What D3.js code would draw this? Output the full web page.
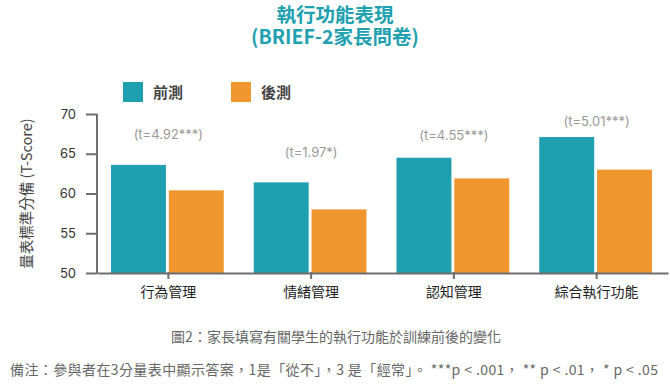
<!DOCTYPE html>
<html>
<head>
<meta charset="utf-8">
<script src="https://cdn.jsdelivr.net/npm/d3@7"></script>
<style>
  body { margin: 0; background: #fff; }
  svg { display: block; font-family: Inter, "Noto Sans CJK TC", sans-serif; }
</style>
</head>
<body>
<svg width="670" height="390"></svg>
<script>
var categories = ['行為管理', '情緒管理', '認知管理', '綜合執行功能'];
var seriesNames = ['前測', '後測'];
var preValues = [63.6, 61.4, 64.5, 67.1];
var postValues = [60.4, 58.0, 61.9, 63.0];
var tLabels = ['(t=4.92***)', '(t=1.97*)', '(t=4.55***)', '(t=5.01***)'];
var tLabelAt = [67.5, 65.2, 67.4, 69.1];   // label centre in T-score units
var yTicks = [50, 55, 60, 65, 70];
var titleLines = ['執行功能表現', '(BRIEF-2家長問卷)'];

var colors = ['#1fa0b1', '#ef962f'];

var svg = d3.select('svg');
var margin = {left: 97, right: 2, top: 114, bottom: 117};
var width = +svg.attr('width'), height = +svg.attr('height');

var x = d3.scaleBand()
  .domain(categories)
  .range([margin.left, width - margin.right])
  .paddingInner(0)
  .paddingOuter(0);

var x1 = d3.scaleBand()
  .domain(seriesNames)
  .range([14, x.bandwidth() - 16])
  .paddingInner(0.05);

var y = d3.scaleLinear()
  .domain([50, 70])
  .range([height - margin.bottom, margin.top]);

var rows = categories.map(function(c, i) {
  return {cat: c, values: [preValues[i], postValues[i]], t: tLabels[i], tAt: tLabelAt[i]};
});

var cjk = '"Noto Sans CJK TC", sans-serif';

/* title: one text, two lines */
svg.append('text')
  .attr('text-anchor', 'middle')
  .attr('fill', '#21a0b0')
  .style('font-size', '19.5px').style('font-weight', 'bold')
  .style('font-family', cjk)
  .selectAll('tspan')
  .data(titleLines)
  .enter().append('tspan')
  .attr('x', 335)
  .attr('y', function(d, i) { return 22 + i * 22; })
  .text(function(d) { return d; });

/* legend */
var legend = svg.append('g').selectAll('g')
  .data(seriesNames)
  .enter().append('g')
  .attr('transform', function(d, i) { return 'translate(' + (123 + i * 108) + ',82)'; });
legend.append('rect')
  .attr('width', 20).attr('height', 20)
  .attr('fill', function(d, i) { return colors[i]; });
legend.append('text')
  .attr('x', 30).attr('y', 15.5)
  .attr('fill', '#444')
  .style('font-size', '15px').style('font-weight', 'bold')
  .style('font-family', cjk)
  .text(function(d) { return d; });

/* bars */
var groups = svg.append('g').selectAll('g')
  .data(rows)
  .enter().append('g')
  .attr('transform', function(d) { return 'translate(' + x(d.cat) + ',0)'; });

groups.selectAll('rect')
  .data(function(d) { return d.values; })
  .enter().append('rect')
  .attr('x', function(d, i) { return x1(seriesNames[i]); })
  .attr('width', x1.bandwidth())
  .attr('y', function(d) { return y(d); })
  .attr('height', function(d) { return y(50) - y(d); })
  .attr('fill', function(d, i) { return colors[i]; });

groups.append('text')
  .attr('x', x.bandwidth() / 2)
  .attr('y', function(d) { return y(d.tAt) + 5; })
  .attr('text-anchor', 'middle')
  .attr('fill', '#999')
  .style('font-size', '13px')
  .text(function(d) { return d.t; });

/* axes */
var yAxis = svg.append('g')
  .attr('transform', 'translate(' + margin.left + ',0)')
  .call(d3.axisLeft(y).tickValues(yTicks).tickSize(11).tickPadding(10));
var xAxis = svg.append('g')
  .attr('transform', 'translate(0,' + y(50) + ')')
  .call(d3.axisBottom(x).tickSize(6).tickPadding(8).tickSizeOuter(0));

[yAxis, xAxis].forEach(function(ax) {
  ax.select('.domain').attr('stroke', '#6e6e6e').attr('stroke-width', 2);
  ax.selectAll('.tick line').attr('stroke', '#6e6e6e').attr('stroke-width', 2);
  ax.selectAll('.tick text').attr('fill', '#333');
});
yAxis.select('.domain').attr('d', 'M0,' + y(70) + 'V' + y(50));
yAxis.selectAll('.tick text').style('font-size', '13px').style('font-family', 'Inter, sans-serif');
xAxis.selectAll('.tick line').attr('y1', -1);
xAxis.selectAll('.tick text')
  .style('font-size', '14px')
  .style('font-family', cjk)
  .attr('fill', '#222');

svg.append('text')
  .attr('transform', 'translate(32,' + ((y(50) + y(70)) / 2) + ') rotate(-90)')
  .attr('text-anchor', 'middle')
  .attr('fill', '#444')
  .style('font-size', '14.5px')
  .style('font-family', cjk)
  .text('量表標準分備 (T-Score)');

/* captions */
svg.append('text')
  .attr('x', 336).attr('y', 342)
  .attr('text-anchor', 'middle')
  .attr('fill', '#666')
  .style('font-size', '14px')
  .style('font-family', cjk)
  .text('圖2：家長填寫有關學生的執行功能於訓練前後的變化');
svg.append('text')
  .attr('x', 10).attr('y', 375)
  .attr('fill', '#666')
  .style('font-size', '14px')
  .style('letter-spacing', '0.4px')
  .style('font-family', cjk)
  .text('備注：參與者在3分量表中顯示答案，1是「從不」，3 是「經常」。 ***p < .001， ** p < .01， * p < .05');
</script>
</body>
</html>
